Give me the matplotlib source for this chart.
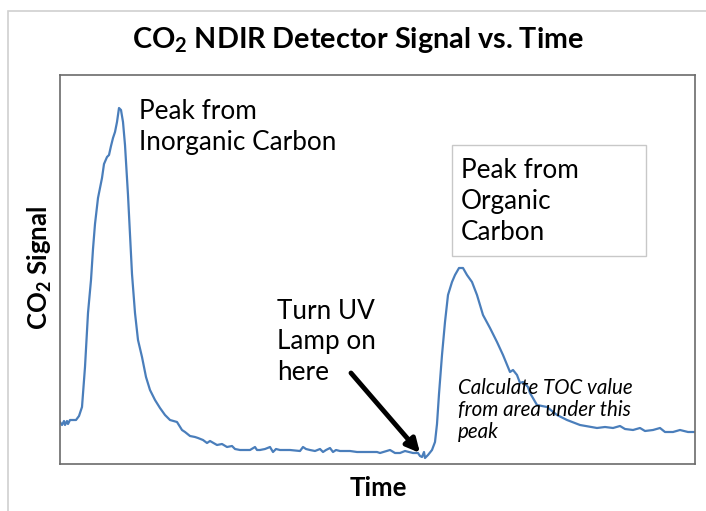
import matplotlib.pyplot as plt
import matplotlib.patches as mpatches
import numpy as np

# detector trace (arbitrary units), in three stretches
ic_time = [0, 2, 4, 5, 7, 8, 10, 16, 19, 22, 25, 28, 31, 33, 35, 38, 42, 44, 47, 49,
           51, 53, 55, 57, 59, 61, 63, 65, 68, 70, 72, 75, 78, 82, 86, 90, 95, 100,
           105, 110, 117]
ic_signal = [42, 39, 43, 39, 43, 40, 44, 44, 48, 57, 97, 151, 184, 215, 240, 266,
             286, 300, 307, 309, 318, 326, 332, 342, 356, 354, 342, 319, 269, 229,
             190, 151, 124, 107, 87, 74, 64, 56, 49, 44, 42]

base_time = [122, 125, 130, 135, 138, 143, 147, 150, 157, 162, 167, 172, 175, 180,
             190, 195, 197, 200, 205, 210, 213, 216, 220, 230, 240, 243, 246, 250,
             255, 260, 263, 266, 270, 273, 276, 280, 290, 297, 310, 317, 320, 330,
             335, 340, 345, 353, 358, 360, 362, 364, 365, 368, 372]
base_signal = [34, 32, 28, 27, 26, 24, 21, 23, 19, 20, 17, 18, 15, 14, 14, 17, 14,
               14, 15, 17, 12, 15, 14, 14, 13, 17, 15, 14, 13, 15, 12, 14, 16, 12,
               14, 13, 13, 12, 12, 12, 11, 14, 11, 11, 13, 11, 11, 8, 7, 12, 6, 9, 14]

oc_time = [375, 377, 379, 382, 385, 388, 392, 395, 399, 403, 407, 412, 417, 423,
           430, 437, 443, 450, 453, 457, 460, 463, 468, 470, 477, 487, 497, 507,
           520, 537, 545, 553, 560, 565, 573, 580, 585, 593, 600, 605, 613, 620,
           628, 635]
oc_signal = [22, 40, 70, 109, 142, 169, 182, 189, 196, 196, 189, 182, 169, 149, 136,
             122, 109, 92, 94, 89, 81, 82, 77, 71, 59, 57, 49, 44, 39, 36, 37, 36,
             38, 35, 34, 36, 33, 34, 36, 32, 32, 34, 32, 32]

time = np.concatenate([ic_time, base_time, oc_time])
signal = np.concatenate([ic_signal, base_signal, oc_signal])

fig = plt.figure(figsize=(7.06, 5.11), dpi=100)
fig.patch.set_facecolor('white')
W, H = 706.0, 511.0

def px(x, y):
    return (x / W, 1 - y / H)

# light outer chart-area border (cropped on right and bottom)
fig.patches.append(mpatches.Rectangle(px(8, 520), 720 / W, 509 / H, transform=fig.transFigure,
                                      fill=False, edgecolor='#d0d0d0', linewidth=1.2))

ax = fig.add_axes([60 / W, 1 - 464 / H, 635 / W, 389 / H])
ax.plot(time, signal, color='#4a7ebb', lw=1.6)
ax.set_xlim(0, 635)
ax.set_ylim(0, 389)
ax.set_xticks([])
ax.set_yticks([])
for s in ax.spines.values():
    s.set_color('#6b6b6b')
    s.set_linewidth(1.2)

font = 'Lato'
fig.text(*px(358, 40), 'CO$_\\mathregular{2}$ NDIR Detector Signal vs. Time', ha='center', va='center',
         fontsize=20.7, fontweight='bold', family=font)
fig.text(*px(40, 268), 'CO$_\\mathregular{2}$ Signal', ha='center', va='center', rotation=90,
         fontsize=18.5, fontweight='bold', family=font)
fig.text(*px(378, 488), 'Time', ha='center', va='center',
         fontsize=18.5, fontweight='bold', family=font)

fig.text(*px(139, 127), 'Peak from\nInorganic Carbon', ha='left', va='center',
         fontsize=18.8, family=font, linespacing=1.32)

# boxed label
fig.patches.append(mpatches.Rectangle(px(452, 256), 194 / W, 111 / H, transform=fig.transFigure,
                                      facecolor='white', edgecolor='#c8c8c8', linewidth=1))
fig.text(*px(461, 202), 'Peak from\nOrganic\nCarbon', ha='left', va='center',
         fontsize=18.8, family=font, linespacing=1.3)
fig.text(*px(277, 342), 'Turn UV\nLamp on\nhere', ha='left', va='center',
         fontsize=18.8, family=font, linespacing=1.27)
fig.text(*px(458, 410), 'Calculate TOC value\nfrom area under this\npeak', ha='left', va='center',
         fontsize=14.8, style='italic', family=font, linespacing=1.15)

ax.annotate('', xy=px(420, 453), xytext=px(351, 373),
            xycoords='figure fraction', textcoords='figure fraction',
            arrowprops=dict(arrowstyle='-|>,head_length=0.8,head_width=0.4',
                            color='black', lw=3.5, shrinkA=0, shrinkB=0))

plt.savefig('out.png', dpi=100)
